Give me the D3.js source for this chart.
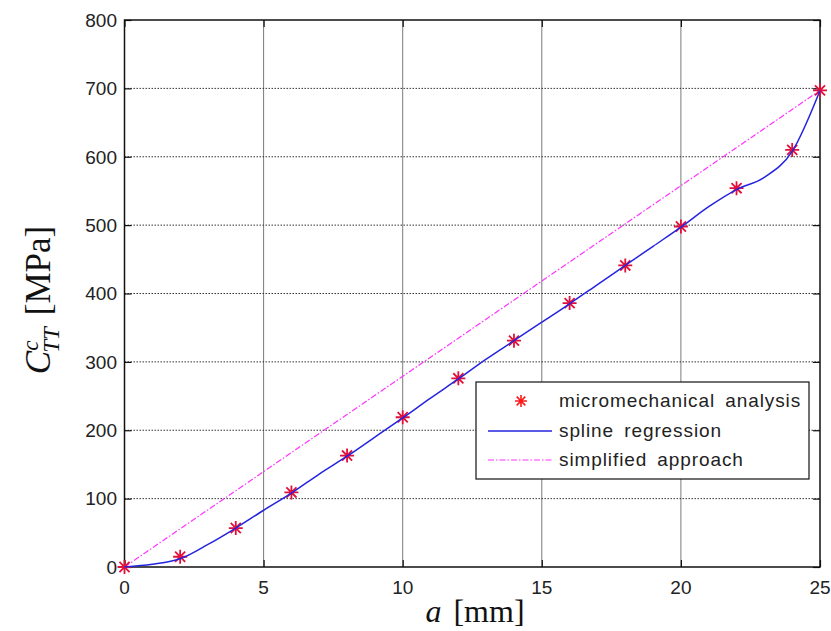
<!DOCTYPE html>
<html>
<head>
<meta charset="utf-8">
<script src="https://cdn.jsdelivr.net/npm/d3@7/dist/d3.min.js"></script>
<style>
  html, body { margin: 0; padding: 0; background: #fff; }
  svg { display: block; }
  .tick-label { font-family: "Liberation Sans", Arial, sans-serif; font-size: 19px; fill: #222; }
  .legend-text { font-family: "Liberation Sans", Arial, sans-serif; font-size: 19px; fill: #222; letter-spacing: 0.9px; word-spacing: 4px; }
  .axis-title { font-family: "Liberation Serif", "Times New Roman", serif; fill: #111; }
</style>
</head>
<body>
<script>
// Crack length a [mm] at which the micromechanical analysis was evaluated
const analysisA = [0, 2, 4, 6, 8, 10, 12, 14, 16, 18, 20, 22, 24, 25];
// Stiffness C^c_TT [MPa] from the micromechanical analysis
const analysisC = [0, 15, 57, 109, 163, 219, 276, 331, 386, 441, 498, 554, 610, 697];

// Spline regression curve, sampled at each millimetre
const splineA = [0, 1, 2, 3, 4, 5, 6, 7, 8, 9, 10, 11, 12, 13, 14, 15, 16, 17, 18, 19, 20, 21, 22, 23, 24, 25];
const splineC = [0, 4, 12, 33, 57, 83, 108, 136, 162, 190, 218, 247, 275, 304, 331, 358, 385, 413, 441, 469, 497, 527, 552, 570, 608, 697];

// Simplified (linear) approach
const simplifiedA = [0, 25];
const simplifiedC = [0, 697];

// Axis ticks
const xTicks = [0, 5, 10, 15, 20, 25];
const yTicks = [0, 100, 200, 300, 400, 500, 600, 700, 800];

const legendLabels = ["micromechanical analysis", "spline regression", "simplified approach"];

const W = 831, H = 631;
const plotL = 124.5, plotR = 820, plotT = 20, plotB = 567;

const svg = d3.select("body").append("svg").attr("width", W).attr("height", H);

const x = d3.scaleLinear().domain([0, 25]).range([plotL, plotR]);
const y = d3.scaleLinear().domain([0, 800]).range([plotB, plotT]);

// Grid
const grid = svg.append("g");
grid.selectAll("line.gx").data(xTicks.slice(1, -1)).join("line")
  .attr("x1", d => x(d)).attr("x2", d => x(d))
  .attr("y1", plotT).attr("y2", plotB)
  .attr("stroke", "#7a7a7a").attr("stroke-width", 1);
grid.selectAll("line.gy").data(yTicks.slice(1, -1)).join("line")
  .attr("x1", plotL).attr("x2", plotR)
  .attr("y1", d => y(d)).attr("y2", d => y(d))
  .attr("stroke", "#333").attr("stroke-width", 1)
  .attr("stroke-dasharray", "1.5,1.5");

// Axes with inward ticks on all four sides
const tickLen = 7;
const axBottom = d3.axisBottom(x).tickValues(xTicks).tickSizeInner(-tickLen).tickSizeOuter(0).tickFormat("");
const axTop = d3.axisTop(x).tickValues(xTicks).tickSizeInner(-tickLen).tickSizeOuter(0).tickFormat("");
const axLeft = d3.axisLeft(y).tickValues(yTicks).tickSizeInner(-tickLen).tickSizeOuter(0).tickFormat("");
const axRight = d3.axisRight(y).tickValues(yTicks).tickSizeInner(-tickLen).tickSizeOuter(0).tickFormat("");
[
  [axBottom, `translate(0,${plotB})`],
  [axTop, `translate(0,${plotT})`],
  [axLeft, `translate(${plotL},0)`],
  [axRight, `translate(${plotR},0)`]
].forEach(([ax, tr]) => {
  const g = svg.append("g").attr("transform", tr).call(ax);
  g.select(".domain").remove();
  g.selectAll(".tick line").attr("stroke", "#111").attr("stroke-width", 1.2);
});

// Box
svg.append("rect")
  .attr("x", plotL).attr("y", plotT)
  .attr("width", plotR - plotL).attr("height", plotB - plotT)
  .attr("fill", "none").attr("stroke", "#111").attr("stroke-width", 1.5);

// Tick labels
svg.append("g").selectAll("text").data(xTicks).join("text")
  .attr("class", "tick-label")
  .attr("x", d => x(d)).attr("y", 594)
  .attr("text-anchor", "middle")
  .text(d => d);
svg.append("g").selectAll("text").data(yTicks).join("text")
  .attr("class", "tick-label")
  .attr("x", 117).attr("y", d => y(d))
  .attr("dy", "0.36em")
  .attr("text-anchor", "end")
  .text(d => d);

// Asterisk marker (plus + cross)
function asterisk(r) {
  const k = r * 0.72;
  return `M${-r},0L${r},0M0,${-r}L0,${r}M${-k},${-k}L${k},${k}M${-k},${k}L${k},${-k}`;
}
const markerColor = "#e2103a";

// Simplified approach (dash-dot magenta)
const simplified = simplifiedA.map((a, i) => [a, simplifiedC[i]]);
svg.append("path")
  .datum(simplified)
  .attr("d", d3.line().x(d => x(d[0])).y(d => y(d[1])))
  .attr("fill", "none").attr("stroke", "#ff33ff").attr("stroke-width", 1.2)
  .attr("stroke-dasharray", "6,2,1.5,2");

// Micromechanical analysis markers
svg.append("g").selectAll("path").data(analysisA.map((a, i) => [a, analysisC[i]])).join("path")
  .attr("transform", d => `translate(${x(d[0])},${y(d[1])})`)
  .attr("d", asterisk(7))
  .attr("fill", "none").attr("stroke", markerColor).attr("stroke-width", 1.8);

// Spline regression
const spline = splineA.map((a, i) => [a, splineC[i]]);
svg.append("path")
  .datum(spline)
  .attr("d", d3.line().curve(d3.curveMonotoneX).x(d => x(d[0])).y(d => y(d[1])))
  .attr("fill", "none").attr("stroke", "#2424e0").attr("stroke-width", 1.5);

// Legend
const lg = svg.append("g");
lg.append("rect")
  .attr("x", 476).attr("y", 382).attr("width", 333).attr("height", 97)
  .attr("fill", "#fff").attr("stroke", "#111").attr("stroke-width", 1.2);
const rowsY = [401, 431, 460];
lg.append("path")
  .attr("transform", `translate(521,${rowsY[0]})`)
  .attr("d", asterisk(6))
  .attr("fill", "none").attr("stroke", "#ff1a1a").attr("stroke-width", 1.6);
lg.append("line")
  .attr("x1", 488).attr("x2", 552).attr("y1", rowsY[1]).attr("y2", rowsY[1])
  .attr("stroke", "#2424e0").attr("stroke-width", 1.5);
lg.append("line")
  .attr("x1", 488).attr("x2", 552).attr("y1", rowsY[2]).attr("y2", rowsY[2])
  .attr("stroke", "#ff33ff").attr("stroke-width", 1.2)
  .attr("stroke-dasharray", "6,2,1.5,2");
lg.selectAll("text").data(legendLabels).join("text")
  .attr("class", "legend-text")
  .attr("x", 559).attr("y", (d, i) => rowsY[i])
  .attr("dy", "0.34em")
  .text(d => d);

// x-axis title: a [mm]
const xt = svg.append("text").attr("class", "axis-title")
  .attr("x", 475).attr("y", 622).attr("text-anchor", "middle")
  .attr("font-size", 32);
xt.append("tspan").attr("font-style", "italic").text("a");
xt.append("tspan").attr("dx", 12).text("[mm]");

// y-axis title: C^c_TT [MPa]
const yt = svg.append("text").attr("class", "axis-title")
  .attr("transform", "translate(50,300) rotate(-90)")
  .attr("text-anchor", "middle")
  .attr("font-size", 35);
yt.append("tspan").attr("font-style", "italic").text("C");
const sup = yt.append("tspan").attr("font-style", "italic").attr("font-size", 23).attr("dy", -12).text("c");
const sub = yt.append("tspan").attr("font-style", "italic").attr("font-size", 23).attr("dy", 21).text("TT");
yt.append("tspan").attr("dy", -9).attr("dx", 12).text("[MPa]");
// stack sub under sup
const supW = sup.node().getComputedTextLength();
sub.attr("dx", -supW - 2);
</script>
</body>
</html>
